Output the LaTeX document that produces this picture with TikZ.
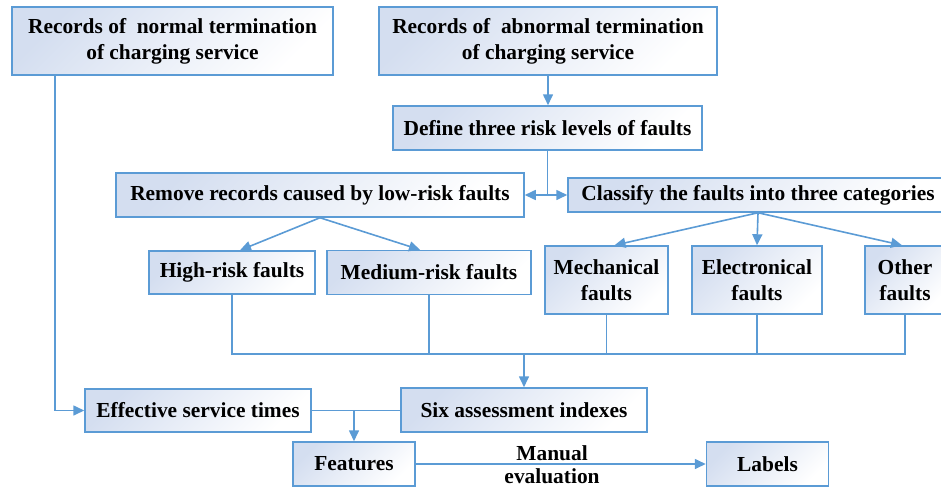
\documentclass[tikz,border=0pt]{standalone}
\usepackage{fontspec}
\setmainfont{Liberation Serif}
\usetikzlibrary{arrows.meta}
\definecolor{lblue}{RGB}{91,155,213}
\definecolor{gradc}{RGB}{212,222,240}
\tikzset{
  box/.style={draw=lblue, line width=1.5pt, rectangle, inner sep=0pt, align=center,
    top color=gradc, bottom color=white, shading angle=45,
    font=\bfseries\fontsize{21.4}{26}\selectfont},
  conn/.style={draw=lblue, line width=1.6pt},
  arr/.style={conn, -{Triangle[length=11pt,width=10pt]}},
  lbl/.style={font=\bfseries\fontsize{21.4}{26}\selectfont, inner sep=0pt, anchor=center}
}
\begin{document}
\begin{tikzpicture}[x=1pt,y=-1pt]
\useasboundingbox (0,0) rectangle (941,487);
\node[box, minimum width=321, minimum height=68] (normal) at (172.5,41) {Records of \ normal termination\\of charging service};
\node[box, minimum width=338, minimum height=68] (abnormal) at (548,41) {Records of \ abnormal termination\\of charging service};
\node[box, minimum width=309, minimum height=44] (define) at (547.5,128) {Define three risk levels of faults};
\node[box, minimum width=408, minimum height=44] (remove) at (320,195) {Remove records caused by low-risk faults};
\node[box, minimum width=380, minimum height=34] (classify) at (758,195) {Classify the faults into three categories};
\node[box, minimum width=166, minimum height=43] (high) at (232,272.5) {High-risk faults};
\node[box, minimum width=204, minimum height=44] (medium) at (429,272.5) {Medium-risk faults};
\node[box, minimum width=123, minimum height=68] (mech) at (606.5,280) {Mechanical\\faults};
\node[box, minimum width=130, minimum height=68] (elec) at (757,280) {Electronical\\faults};
\node[box, minimum width=80, minimum height=68] (other) at (905,280) {Other\\faults};
\node[box, minimum width=226, minimum height=43] (effective) at (198,410.5) {Effective service times};
\node[box, minimum width=246, minimum height=44] (six) at (524,410) {Six assessment indexes};
\node[box, minimum width=122, minimum height=44] (features) at (354,464) {Features};
\node[box, minimum width=122, minimum height=44] (labels) at (767.5,464) {Labels};

\draw[arr] (abnormal.south) -- (abnormal.south |- define.north);
\coordinate (j1) at (define.south |- remove.east);
\draw[conn] (define.south) -- (j1);
\draw[arr] (j1) -- (remove.east);
\draw[arr] (j1) -- (classify.west);
\draw[arr] (remove.south) -- ([xshift=8]high.north);
\draw[arr] (remove.south) -- ([xshift=-9]medium.north);
\draw[arr] (classify.south) -- ([xshift=8]mech.north);
\draw[arr] (classify.south) -- (elec.north);
\draw[arr] (classify.south) -- ([xshift=-3]other.north);
\coordinate (bus) at (0,354);
\draw[conn] (high.south) -- (high.south |- bus) -- (other.south |- bus) -- (other.south);
\draw[conn] (medium.south) -- (medium.south |- bus);
\draw[conn] (mech.south) -- (mech.south |- bus);
\draw[conn] (elec.south) -- (elec.south |- bus);
\draw[arr] (six.north |- bus) -- (six.north);
\draw[arr] ([xshift=44]normal.south west) |- (effective.west);
\draw[conn] (effective.east) -- (effective.east -| six.west);
\draw[arr] (features.north |- effective.east) -- (features.north);
\draw[arr] (features.east) -- (labels.west)
  node[lbl, pos=0.47, yshift=11pt] (manual) {Manual}
  node[lbl, pos=0.47, yshift=-12.5pt] (evaluation) {evaluation};
\end{tikzpicture}
\end{document}
